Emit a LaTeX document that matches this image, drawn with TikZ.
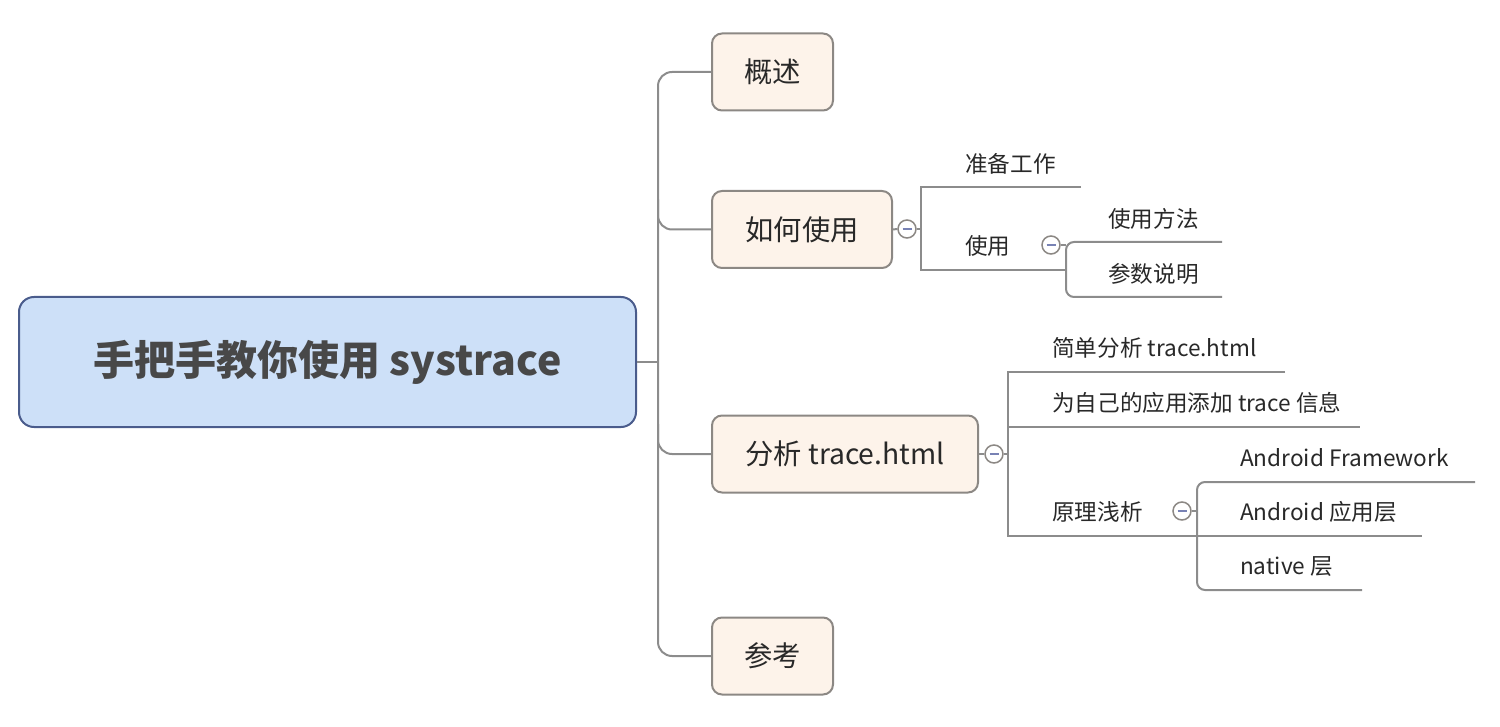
\documentclass[tikz,border=0pt]{standalone}
\usepackage{fontspec}
\setmainfont{Noto Sans CJK SC}
\usetikzlibrary{calc}
\definecolor{rootfill}{RGB}{205,224,248}
\definecolor{rootdraw}{RGB}{74,92,140}
\definecolor{roottext}{RGB}{72,72,72}
\definecolor{boxfill}{RGB}{253,243,234}
\definecolor{boxdraw}{RGB}{140,136,132}
\definecolor{linegray}{RGB}{140,140,140}
\definecolor{txt}{RGB}{40,40,40}
\definecolor{minuscol}{RGB}{120,130,180}
\tikzset{
  rootbox/.style={draw=rootdraw, fill=rootfill, line width=2pt, rounded corners=15pt,
    minimum width=617pt, minimum height=130pt, inner sep=0pt, text=roottext,
    font=\fontsize{41}{49}\selectfont\bfseries},
  topicbox/.style={draw=boxdraw, fill=boxfill, line width=2pt, rounded corners=10pt,
    minimum height=77pt, inner sep=0pt, text=txt, font=\fontsize{28.3}{34}\selectfont},
  lbl/.style={anchor=west, inner sep=0pt, text=txt, font=\fontsize{22.6}{27}\selectfont},
  conn/.style={draw=linegray, line width=2pt},
  collapse/.style={circle, draw=boxdraw, fill=white, line width=1.5pt, minimum size=18pt, inner sep=0pt,
    path picture={\draw[minuscol, line width=1.6pt] ($(path picture bounding box.center)+(-4.5pt,0)$) -- ++(9pt,0);}}
}
\begin{document}
\begin{tikzpicture}[x=1pt, y=-1pt]
\useasboundingbox (0,0) rectangle (1500,727);
% root and main topics
\node[rootbox] (root) at (327.5,362) {手把手教你使用 systrace};
\node[topicbox, minimum width=121pt] (gs) at (772.5,72) {概述};
\node[topicbox, minimum width=180pt] (use) at (802,229.5) {如何使用};
\node[topicbox, minimum width=266pt] (ana) at (845,454) {分析 trace.html};
\node[topicbox, minimum width=121pt] (ck) at (772.5,656) {参考};
% trunk
\coordinate (tx) at (658,0);
\draw[conn] (root.east) -- (tx |- root.east);
\draw[conn, rounded corners=14pt] (gs.west) -- (tx |- gs.west) -- (tx |- ck.west) -- (ck.west);
\draw[conn, rounded corners=14pt] ($(tx |- use.west)+(0,-30)$) -- (tx |- use.west) -- (use.west);
\draw[conn, rounded corners=14pt] ($(tx |- ana.west)+(0,-30)$) -- (tx |- ana.west) -- (ana.west);
% ---- 如何使用 subtree
\node[collapse] (c1) at (907,229) {};
\coordinate (b1) at (921,0);
\node[lbl] (zb) at (965,164) {准备工作};
\node[lbl] (sy) at (965,246) {使用};
\coordinate (zbEnd) at (1081,187);
\coordinate (syEnd) at (1066,270);
\draw[conn] (use.east) -- (c1.west);
\draw[conn] (c1.east) -- (b1 |- c1.east);
\draw[conn] (zbEnd) -- (b1 |- zbEnd) -- (b1 |- syEnd) -- (syEnd);
\node[collapse] (c2) at (1051,245) {};
\coordinate (b2) at (1066,0);
\node[lbl] (syff) at (1108,219) {使用方法};
\node[lbl] (cssm) at (1108,274) {参数说明};
\coordinate (syffEnd) at (1222,242);
\coordinate (cssmEnd) at (1222,297);
\draw[conn] (c2.east) -- (b2 |- c2.east);
\draw[conn, rounded corners=8pt] (syffEnd) -- (b2 |- syffEnd) -- (b2 |- cssmEnd) -- (cssmEnd);
% ---- 分析 subtree
\node[collapse] (c3) at (994,454) {};
\coordinate (b3) at (1008,0);
\node[lbl] (jd) at (1052,348) {简单分析 trace.html};
\node[lbl] (wz) at (1052,403) {为自己的应用添加 trace 信息};
\node[lbl] (yl) at (1052,512) {原理浅析};
\coordinate (jdEnd) at (1285,372);
\coordinate (wzEnd) at (1360,427);
\coordinate (ylEnd) at (1197,536);
\draw[conn] (ana.east) -- (c3.west);
\draw[conn] (c3.east) -- (b3 |- c3.east);
\draw[conn] (jdEnd) -- (b3 |- jdEnd) -- (b3 |- ylEnd) -- (ylEnd);
\draw[conn] (b3 |- wzEnd) -- (wzEnd);
\node[collapse] (c4) at (1182,511) {};
\coordinate (b4) at (1197,0);
\node[lbl] (af) at (1240,458) {Android Framework};
\node[lbl] (ay) at (1240,512) {Android 应用层};
\node[lbl] (nt) at (1240,567) {native 层};
\coordinate (afEnd) at (1475,482);
\coordinate (ayEnd) at (1422,536);
\coordinate (ntEnd) at (1362,590);
\draw[conn] (c4.east) -- (b4 |- c4.east);
\draw[conn, rounded corners=8pt] (afEnd) -- (b4 |- afEnd) -- (b4 |- ntEnd) -- (ntEnd);
\draw[conn] (ylEnd) -- (ayEnd);
\end{tikzpicture}
\end{document}
